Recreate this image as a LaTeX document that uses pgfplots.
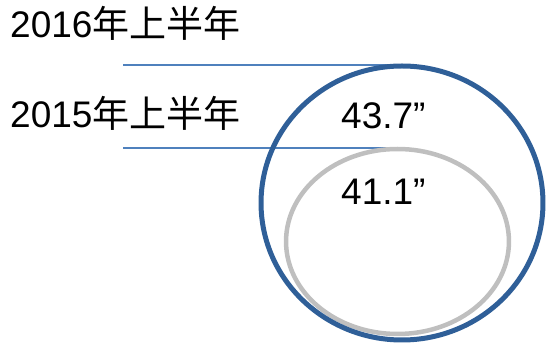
\documentclass[border=0pt]{standalone}
\usepackage{pgfplots}
\pgfplotsset{compat=1.18}
\usepackage{fontspec}
\setmainfont{Liberation Sans}
\newfontfamily\cjk{Noto Sans CJK SC}
\definecolor{bigblue}{HTML}{2F5F98}
\definecolor{lineblue}{HTML}{4F81BD}
\definecolor{ringgray}{HTML}{BFBFBF}
\begin{document}
\begin{tikzpicture}
\begin{axis}[
  x=1pt, y=1pt,
  xmin=0, xmax=547, ymin=0, ymax=345,
  hide axis, clip=false,
  scale only axis,
]
% bubbles: 2015 (41.1) and 2016 (43.7)
\addplot[only marks, mark=o, mark size=92.5pt,
  mark options={draw=ringgray, line width=4.5pt, xscale=1.205, yscale=1}]
  coordinates {(397.5,103.5)};
\addplot[only marks, mark=o, mark size=137pt,
  mark options={draw=bigblue, line width=5pt, xscale=1.029, yscale=1}]
  coordinates {(402,142)};
% leader lines
\addplot[lineblue, line width=2pt] coordinates {(123,280) (403,280)};
\addplot[lineblue, line width=2pt] coordinates {(123,196.5) (403,196.5)};
\node[anchor=base west, inner sep=0pt, font=\fontsize{37}{42}\selectfont]
  at (axis cs:10,307) {2016{\cjk 年上半年}};
\node[anchor=base west, inner sep=0pt, font=\fontsize{37}{42}\selectfont]
  at (axis cs:10,217) {2015{\cjk 年上半年}};
\node[anchor=base west, inner sep=0pt, font=\fontsize{37}{42}\selectfont]
  at (axis cs:341,216) {43.7”};
\node[anchor=base west, inner sep=0pt, font=\fontsize{37}{42}\selectfont]
  at (axis cs:341,140) {41.1”};
\end{axis}
\pgfresetboundingbox
\useasboundingbox (current axis.south west) rectangle (current axis.north east);
\end{tikzpicture}
\end{document}
